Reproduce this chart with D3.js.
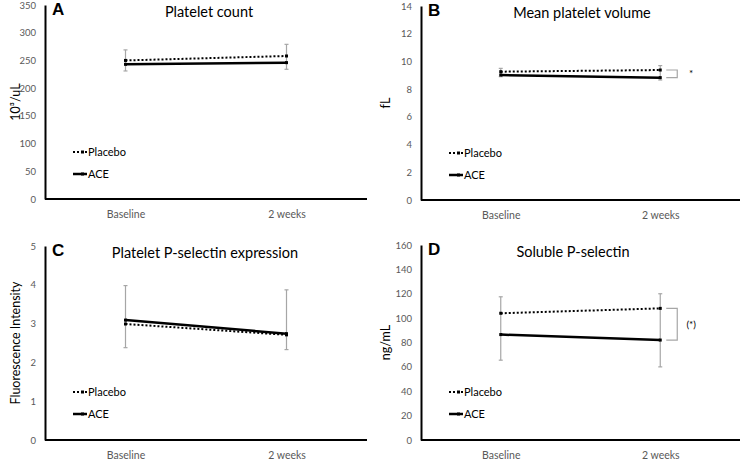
<!DOCTYPE html>
<html><head><meta charset="utf-8">
<script src="https://cdn.jsdelivr.net/npm/d3@7"></script>
<style>body{margin:0;background:#fff}svg{display:block;font-family:Lato,"Open Sans",sans-serif}</style>
</head><body><svg id="c" width="741" height="460"></svg>
<script>
const categories = ["Baseline", "2 weeks"];
const seriesNames = ["Placebo", "ACE"];

// Panel A: Platelet count
const aPlacebo = [250, 258];
const aACE = [243, 246];
const aErrTop = [269, 279];
const aErrBottom = [231, 234];
const aTicks = [0, 50, 100, 150, 200, 250, 300, 350];

// Panel B: Mean platelet volume
const bPlacebo = [9.26, 9.38];
const bACE = [9.02, 8.83];
const bErrTop = [9.5, 9.7];
const bErrBottom = [8.9, 8.66];
const bTicks = [0, 2, 4, 6, 8, 10, 12, 14];

// Panel C: Platelet P-selectin expression
const cPlacebo = [2.99, 2.71];
const cACE = [3.09, 2.74];
const cErrTop = [3.98, 3.87];
const cErrBottom = [2.38, 2.33];
const cTicks = [0, 1, 2, 3, 4, 5];

// Panel D: Soluble P-selectin
const dPlacebo = [104, 108];
const dACE = [86.5, 82];
const dErrTop = [117.5, 120];
const dErrBottom = [65.5, 60];
const dTicks = [0, 20, 40, 60, 80, 100, 120, 140, 160];

const panels = [
  {letter:"A", title:"Platelet count", ylabel:"10³/uL", placebo:aPlacebo, ace:aACE, top:aErrTop, bot:aErrBottom, ticks:aTicks,
   x0:45, x1:367, y0:5, y1:199, titleX:209, labelX:15, legY:152, bracket:null},
  {letter:"B", title:"Mean platelet volume", ylabel:"fL", placebo:bPlacebo, ace:bACE, top:bErrTop, bot:bErrBottom, ticks:bTicks,
   x0:421, x1:740, y0:6, y1:200, titleX:582, labelX:385, legY:153, bracket:"*"},
  {letter:"C", title:"Platelet P-selectin expression", ylabel:"Fluorescence Intensity", placebo:cPlacebo, ace:cACE, top:cErrTop, bot:cErrBottom, ticks:cTicks,
   x0:45, x1:367, y0:246, y1:440, titleX:205, labelX:15, legY:392, bracket:null},
  {letter:"D", title:"Soluble P-selectin", ylabel:"ng/mL", placebo:dPlacebo, ace:dACE, top:dErrTop, bot:dErrBottom, ticks:dTicks,
   x0:421, x1:740, y0:245, y1:440, titleX:573, labelX:385, legY:392, bracket:"(*)"}
];

const svg = d3.select("#c");

panels.forEach(p => {
  const g = svg.append("g");
  const x = d3.scalePoint().domain(categories).range([p.x0, p.x1]).padding(0.5);
  const y = d3.scaleLinear().domain([0, d3.max(p.ticks)]).range([p.y1, p.y0]);

  // y axis
  const ya = g.append("g").attr("transform", `translate(${p.x0},0)`)
    .call(d3.axisLeft(y).tickValues(p.ticks).tickFormat(d3.format("d")).tickSize(0).tickPadding(9));
  ya.select(".domain").attr("stroke", "#000").attr("stroke-width", 2);
  ya.selectAll("text").attr("font-size", 9.5).attr("fill", "#595959").attr("font-family", "Lato, sans-serif");

  // x axis
  const xa = g.append("g").attr("transform", `translate(0,${p.y1})`)
    .call(d3.axisBottom(x).tickSize(0).tickPadding(12));
  xa.select(".domain").attr("stroke", "#000").attr("stroke-width", 2).attr("d", `M${p.x0},0H${p.x1}`);
  xa.selectAll("text").attr("font-size", 10.5).attr("fill", "#595959").attr("font-family", "Lato, sans-serif");

  // error bars
  categories.forEach((c, i) => {
    const xc = x(c);
    g.append("line").attr("x1", xc).attr("x2", xc).attr("y1", y(p.top[i])).attr("y2", y(p.bot[i]))
      .attr("stroke", "#a6a6a6").attr("stroke-width", 1.2);
    [p.top[i], p.bot[i]].forEach(v => g.append("line").attr("x1", xc - 2).attr("x2", xc + 2)
      .attr("y1", y(v)).attr("y2", y(v)).attr("stroke", "#a6a6a6").attr("stroke-width", 1.2));
  });

  const line = d3.line().x((d, i) => x(categories[i])).y(d => y(d));
  // placebo dotted
  g.append("path").datum(p.placebo).attr("d", line).attr("fill", "none")
    .attr("stroke", "#000").attr("stroke-width", 2).attr("stroke-dasharray", "2,2");
  // ACE solid
  g.append("path").datum(p.ace).attr("d", line).attr("fill", "none")
    .attr("stroke", "#000").attr("stroke-width", 2.5);
  [p.placebo, p.ace].forEach(arr => arr.forEach((v, i) => {
    g.append("rect").attr("x", x(categories[i]) - 1.5).attr("y", y(v) - 1.5).attr("width", 3).attr("height", 3).attr("fill", "#000");
  }));

  // bracket
  if (p.bracket) {
    const xe = x(categories[1]);
    const yt = y(p.placebo[1]), yb = y(p.ace[1]);
    g.append("path").attr("d", `M${xe + 6},${yt}H${xe + 17}V${yb}H${xe + 6}`)
      .attr("fill", "none").attr("stroke", "#a6a6a6").attr("stroke-width", 1.2);
    g.append("text").attr("x", xe + 31).attr("y", (yt + yb) / 2 + 3.5).attr("text-anchor", "middle")
      .attr("font-size", 10).attr("fill", "#000").text(p.bracket);
  }

  // title & letter
  g.append("text").attr("x", p.titleX).attr("y", p.y0 + 12).attr("text-anchor", "middle")
    .attr("font-size", 14.5).attr("fill", "#000").text(p.title);
  g.append("text").attr("x", p.x0 + 7).attr("y", p.y0 + 10).attr("font-size", 17).attr("font-weight", "bold")
    .attr("font-family", "Liberation Sans, Arial, sans-serif").attr("fill", "#000").text(p.letter);

  // y label
  g.append("text").attr("transform", `translate(${p.labelX + 5},${(p.y0 + p.y1) / 2}) rotate(-90)`)
    .attr("text-anchor", "middle").attr("font-size", 12.5).attr("fill", "#000").text(p.ylabel);

  // legend
  seriesNames.forEach((s, k) => {
    const ly = p.legY + k * 22;
    const lx = p.x0 + 28;
    g.append("line").attr("x1", lx).attr("x2", lx + 14).attr("y1", ly).attr("y2", ly)
      .attr("stroke", "#000").attr("stroke-width", k === 0 ? 1.8 : 2.5)
      .attr("stroke-dasharray", k === 0 ? "2,2" : null);
    g.append("rect").attr("x", lx + 8).attr("y", ly - 1.5).attr("width", 3).attr("height", 3).attr("fill", "#000");
    g.append("text").attr("x", lx + 15).attr("y", ly + 4).attr("font-size", 11).attr("fill", "#000").text(s);
  });
});
</script></body></html>
